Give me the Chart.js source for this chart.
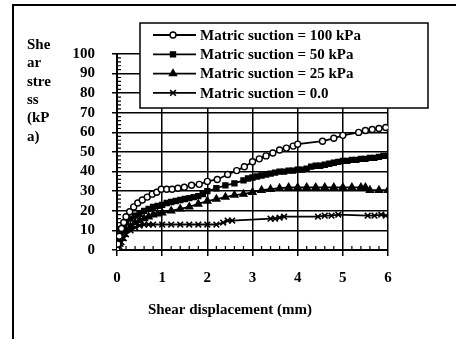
<!DOCTYPE html>
<html>
<head>
<meta charset="utf-8">
<script src="https://cdn.jsdelivr.net/npm/chart.js@4.4.1/dist/chart.umd.min.js"></script>
<style>
  html, body { margin: 0; padding: 0; background: #fff; }
  canvas { display: block; }
</style>
</head>
<body>
<canvas id="shearChart" width="456" height="339"></canvas>
<script>
// Данные
const seriesLabels = [
  "Matric suction = 100 kPa",
  "Matric suction = 50 kPa",
  "Matric suction = 25 kPa",
  "Matric suction = 0.0",
];

const x100 = [0, 0.02, 0.05, 0.1, 0.15, 0.2, 0.28, 0.37, 0.46, 0.56, 0.67, 0.78, 0.88, 0.98, 1.1, 1.22, 1.35, 1.49, 1.65, 1.82, 2.0, 2.22, 2.45, 2.65, 2.82, 3.0, 3.15, 3.3, 3.45, 3.6, 3.75, 3.9, 4.0, 4.55, 4.8, 5.0, 5.35, 5.5, 5.65, 5.8, 5.95];
const y100 = [0, 3, 7, 11, 14, 17, 19.5, 22, 24, 25.5, 27, 28.5, 29.5, 31, 31, 31, 31.5, 32, 33, 33.5, 35, 36, 38.5, 40.5, 42.5, 45, 46.5, 48, 49.5, 51, 52, 53, 54, 55.5, 57, 58.5, 60, 61, 61.5, 62, 62.5];

const x50 = [0, 0.03, 0.06, 0.1, 0.15, 0.2, 0.3, 0.4, 0.5, 0.6, 0.7, 0.8, 0.9, 1.0, 1.1, 1.2, 1.3, 1.4, 1.5, 1.6, 1.7, 1.8, 1.9, 2.0, 2.2, 2.4, 2.6, 2.8, 2.9, 3.0, 3.1, 3.2, 3.3, 3.4, 3.5, 3.6, 3.7, 3.8, 3.9, 4.0, 4.1, 4.2, 4.3, 4.4, 4.5, 4.6, 4.7, 4.8, 4.9, 5.0, 5.1, 5.2, 5.3, 5.4, 5.5, 5.6, 5.7, 5.8, 5.9, 6.0];
const y50 = [0, 4, 7, 10, 12.5, 14, 16, 17.5, 18.5, 20, 21, 22, 22.5, 23, 24, 24.5, 25, 25.5, 26, 26.5, 27, 27.5, 28.5, 30, 31.5, 33, 34, 35.5, 36.5, 37, 37.5, 38, 38.5, 39, 39.5, 40, 40, 40.5, 40.5, 41, 41, 41.5, 42.5, 43, 43, 43.5, 44, 44.5, 45, 45.5, 45.5, 46, 46, 46.5, 46.5, 47, 47, 47.5, 48, 48];

const x25 = [0, 0.05, 0.1, 0.15, 0.2, 0.3, 0.4, 0.5, 0.6, 0.7, 0.8, 0.9, 1.0, 1.2, 1.4, 1.6, 1.8, 2.0, 2.2, 2.4, 2.6, 2.8, 3.0, 3.2, 3.4, 3.6, 3.8, 4.0, 4.2, 4.4, 4.6, 4.8, 5.0, 5.2, 5.4, 5.5, 5.6, 5.8, 6.0];
const y25 = [0, 3, 6, 8, 10, 12, 14, 15, 16, 17, 18, 18.5, 19, 20, 21, 22, 23.5, 25, 26, 27, 28, 28.5, 29.5, 30.5, 31, 31.5, 32, 32, 32, 32, 32, 32, 32, 32, 32, 32, 30.5, 30.5, 30.5];

const x0 = [0, 0.05, 0.1, 0.15, 0.2, 0.3, 0.4, 0.5, 0.6, 0.7, 0.8, 1.0, 1.2, 1.4, 1.6, 1.8, 2.0, 2.2, 2.35, 2.45, 2.55, 3.4, 3.5, 3.6, 3.7, 4.45, 4.6, 4.75, 4.9, 5.55, 5.7, 5.85, 5.95];
const y0 = [0, 2, 4, 6, 8, 10, 11.5, 12.5, 13, 13, 13, 13, 13, 13, 13, 13, 13, 13, 14, 15, 15, 16, 16, 16.5, 17, 17, 17.5, 17.5, 18, 17.5, 17.5, 18, 17.5];

const xTicks = [0, 1, 2, 3, 4, 5, 6];
const yTicks = [0, 10, 20, 30, 40, 50, 60, 70, 80, 90, 100];
const yTitleLines = ["She", "ar", "stre", "ss", "(kP", "a)"];
const xTitle = "Shear displacement (mm)";

const FONT = '"Liberation Serif", "Times New Roman", serif';

function toPoints(xs, ys) {
  return xs.map((x, i) => ({ x: x, y: ys[i] }));
}

const lineStyle = {
  borderColor: "#000",
  borderWidth: 1.8,
  tension: 0,
  fill: false,
  pointBorderColor: "#000",
  pointBorderWidth: 1.4,
};

// Рамка, подписи осей, мелкие засечки и легенда
const decorPlugin = {
  id: "decor",
  beforeDatasetsDraw(chart) {
    const ctx = chart.ctx;
    const xs = chart.scales.x;
    const ys = chart.scales.y;
    ctx.save();
    ctx.strokeStyle = "#000";
    ctx.lineWidth = 1.2;
    ctx.beginPath();
    for (let v = 2; v < 100; v += 2) {
      if (v % 10 === 0) continue;
      const py = ys.getPixelForValue(v);
      ctx.moveTo(xs.left, py);
      ctx.lineTo(xs.left + 4, py);
    }
    for (let i = 1; i < 30; i++) {
      if (i % 5 === 0) continue;
      const px = xs.getPixelForValue(i / 5);
      ctx.moveTo(px, ys.bottom);
      ctx.lineTo(px, ys.bottom - 4);
    }
    ctx.stroke();
    ctx.restore();
  },
  afterDraw(chart) {
    const ctx = chart.ctx;
    ctx.save();

    // внешняя рамка
    ctx.strokeStyle = "#000";
    ctx.lineWidth = 2;
    ctx.beginPath();
    ctx.moveTo(13, 339);
    ctx.lineTo(13, 5);
    ctx.lineTo(456, 5);
    ctx.stroke();

    // подпись оси Y
    ctx.fillStyle = "#000";
    ctx.font = "bold 15px " + FONT;
    ctx.textAlign = "left";
    ctx.textBaseline = "middle";
    yTitleLines.forEach((t, i) => ctx.fillText(t, 27, 45 + i * 18.4));

    // подпись оси X
    ctx.textAlign = "center";
    ctx.fillText(xTitle, 230, 310);

    // легенда
    ctx.fillStyle = "#fff";
    ctx.fillRect(140, 23, 288, 85);
    ctx.lineWidth = 1.5;
    ctx.strokeRect(140, 23, 288, 85);

    chart.data.datasets.forEach((ds, i) => {
      const y = 35 + i * 19.3;
      ctx.strokeStyle = "#000";
      ctx.lineWidth = 1.8;
      ctx.beginPath();
      ctx.moveTo(153, y);
      ctx.lineTo(196, y);
      ctx.stroke();
      ctx.fillStyle = ds.pointBackgroundColor;
      ctx.lineWidth = ds.pointBorderWidth;
      Chart.helpers.drawPoint(ctx, {
        pointStyle: ds.pointStyle,
        radius: ds.pointRadius,
        rotation: 0,
        borderWidth: ds.pointBorderWidth,
      }, 173, y);
      ctx.fillStyle = "#000";
      ctx.font = "bold 15px " + FONT;
      ctx.textAlign = "left";
      ctx.textBaseline = "middle";
      ctx.fillText(ds.label, 200, y + 1);
    });
    ctx.restore();
  },
};

const chart = new Chart(document.getElementById("shearChart"), {
  type: "line",
  data: {
    datasets: [
      {
        ...lineStyle,
        label: seriesLabels[0],
        data: toPoints(x100, y100),
        pointStyle: "circle",
        pointRadius: 3,
        pointBackgroundColor: "#fff",
      },
      {
        ...lineStyle,
        label: seriesLabels[1],
        data: toPoints(x50, y50),
        pointStyle: "rect",
        pointRadius: 3.5,
        pointBackgroundColor: "#000",
      },
      {
        ...lineStyle,
        label: seriesLabels[2],
        data: toPoints(x25, y25),
        pointStyle: "triangle",
        pointRadius: 4,
        pointBackgroundColor: "#000",
      },
      {
        ...lineStyle,
        label: seriesLabels[3],
        data: toPoints(x0, y0),
        pointStyle: "crossRot",
        pointRadius: 4,
        pointBackgroundColor: "#000",
        pointBorderWidth: 1.6,
      },
    ],
  },
  options: {
    responsive: false,
    animation: false,
    devicePixelRatio: 1,
    layout: { padding: { left: 0, right: 68, top: 54, bottom: 0 } },
    plugins: {
      legend: { display: false },
      tooltip: { enabled: false },
    },
    scales: {
      x: {
        type: "linear",
        min: 0,
        max: 6,
        afterBuildTicks: (s) => { s.ticks = xTicks.map((v) => ({ value: v })); },
        afterFit: (s) => { s.height = 89; },
        grid: { color: "#000", lineWidth: 1.5, tickLength: 6 },
        border: { color: "#000", width: 2 },
        ticks: {
          color: "#000",
          padding: 13,
          autoSkip: false,
          maxRotation: 0,
          font: { family: FONT, size: 15, weight: "bold" },
        },
      },
      y: {
        min: 0,
        max: 100,
        afterBuildTicks: (s) => { s.ticks = yTicks.map((v) => ({ value: v })); },
        afterFit: (s) => { s.width = 117; },
        grid: { color: "#000", lineWidth: 1.5, tickLength: 5 },
        border: { color: "#000", width: 2 },
        ticks: {
          color: "#000",
          padding: 17,
          autoSkip: false,
          font: { family: FONT, size: 15, weight: "bold" },
        },
      },
    },
  },
  plugins: [decorPlugin],
});
</script>
</body>
</html>
